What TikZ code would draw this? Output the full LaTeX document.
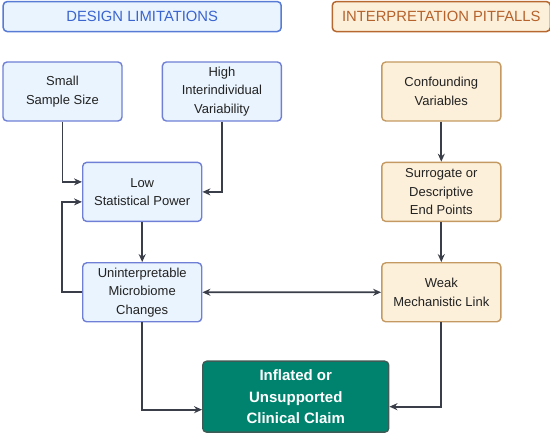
\documentclass[tikz,border=0pt]{standalone}
\usepackage{fontspec}
\setmainfont{Liberation Sans}
\usetikzlibrary{arrows.meta,positioning,calc}
\definecolor{dlfill}{HTML}{EAF4FE}
\definecolor{dldraw}{HTML}{6F7FD6}
\definecolor{dltitle}{HTML}{3A64CF}
\definecolor{ipfill}{HTML}{FDF0DA}
\definecolor{ipdraw}{HTML}{C49A62}
\definecolor{iptitle}{HTML}{B5622C}
\definecolor{claimfill}{HTML}{00836E}
\definecolor{claimdraw}{HTML}{3E5C55}
\definecolor{txt}{HTML}{222222}
\definecolor{wire}{HTML}{3A3E48}

\begin{document}
\begin{tikzpicture}[
  font=\fontsize{13}{18.5}\selectfont,
  node distance=40pt and 39pt,
  box/.style={draw,rounded corners=4pt,align=center,line width=1.4pt,
              minimum width=119pt,minimum height=59pt,inner sep=2pt,text=txt},
  design/.style={box,fill=dlfill,draw=dldraw},
  pitfall/.style={box,fill=ipfill,draw=ipdraw},
  header/.style={draw,rounded corners=4pt,line width=1.5pt,minimum height=30pt,
                 inner xsep=0pt,font=\fontsize{14.8}{18}\selectfont},
  claim/.style={draw=claimdraw,fill=claimfill,rounded corners=4pt,line width=1.4pt,
                align=center,minimum width=186pt,minimum height=71pt,text=white,
                font=\fontsize{15}{21.5}\selectfont\bfseries},
  arrow/.style={-{Stealth[length=8pt,width=7pt]},line width=1.8pt,draw=wire}
]
\useasboundingbox (0,0) rectangle (550pt,-435pt);

\node[design] (small) at (62.5pt,-91.5pt) {Small\\Sample Size};
\node[design,right=of small] (high) {High\\Interindividual\\Variability};
\node[design,below=of $(small.south)!0.5!(high.south)$] (low) {Low\\Statistical Power};
\node[design,below=of low] (unint) {Uninterpretable\\Microbiome\\Changes};

\node[pitfall,right=99pt of high] (conf) {Confounding\\Variables};
\node[pitfall,below=of conf] (surr) {Surrogate or\\Descriptive\\End Points};
\node[pitfall,below=of surr] (weak) {Weak\\Mechanistic Link};

\node[claim,below=38pt of $(unint.south)!0.5!(weak.south)$,xshift=4pt] (result)
 {Inflated or\\Unsupported\\Clinical Claim};

\node[header,fill=dlfill,draw=dltitle!85,text=dltitle,minimum width=278pt,
      above=29pt of $(small.north)!0.5!(high.north)$] (designhead) {DESIGN LIMITATIONS};
\node[header,fill=ipfill,draw=iptitle!80!brown,text=iptitle,minimum width=218pt,
      above=29pt of conf.north] (pitfallhead) {INTERPRETATION PITFALLS};

% left column
\draw[arrow] (small.south) |- ([yshift=10pt]low.west);
\draw[arrow] (high.south) |- (low.east);
\draw[arrow] (low) -- (unint);
\draw[arrow] (unint.west) -- ++(-20pt,0) |- ([yshift=-10pt]low.west);
% right column
\draw[arrow] (conf) -- (surr);
\draw[arrow] (surr) -- (weak);
\draw[arrow,{Stealth[length=8pt,width=7pt]}-{Stealth[length=8pt,width=7pt]}]
  (unint.east) -- (weak.west);
% into the claim
\draw[arrow] (unint.south) |- ([yshift=-13pt]result.west);
\draw[arrow] (weak.south) |- ([yshift=-10pt]result.east);
\end{tikzpicture}
\end{document}
